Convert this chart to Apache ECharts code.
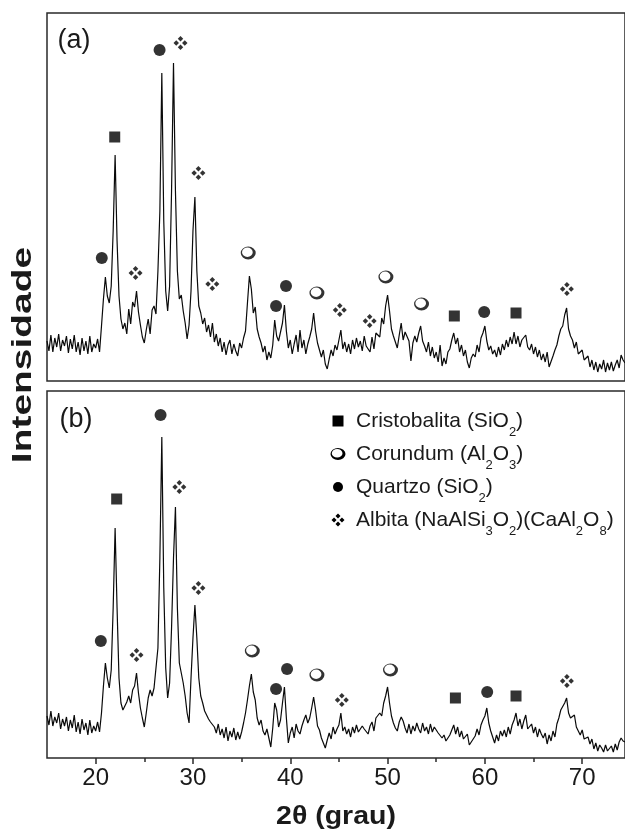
<!DOCTYPE html>
<html><head><meta charset="utf-8">
<script src="https://cdn.jsdelivr.net/npm/echarts@6/dist/echarts.min.js"></script>
<style>html,body{margin:0;padding:0;background:#fff}#c{width:625px;height:831px}</style>
</head><body><div id="c"></div>
<script>
// ---- data: 2θ sampling ----
const twoThetaStart = 15;
const twoThetaStep = 0.2;

// Panel (a) intensity (arbitrary units), 15.0 .. 74.4 every 0.2°
const intensityA = [
40,30,46,29,43, 34,47,30,41,35, 45,28,42,32,46, 29,39,26,43,30, 40,27,45,29,37,
33,42,29,55,82, 104,85,78,95,150, 226,140,85,62,52, 58,47,72,57,79, 74,90,69,56,44,
38,51,62,47,71, 75,67,110,170,308, 160,90,70,95,190, 318,190,110,82,86, 70,58,42,56,90,
150,184,110,75,68, 57,63,49,56,44, 58,39,47,35,43, 29,39,26,36,41, 27,37,30,25,38,
33,43,50,78,105, 92,68,74,52,44, 38,29,35,21,29, 23,36,61,45,40, 42,58,76,50,33,
41,27,37,46,29, 51,33,41,27,37, 44,52,68,50,38, 36,24,31,17,12, 22,31,25,36,31,
41,51,32,39,29, 37,27,41,32,43, 34,40,30,45,35, 37,29,44,32,48, 50,44,63,57,75,
86,70,52,45,39, 33,46,58,41,49, 48,40,20,38,45, 39,48,55,40,35, 29,39,25,34,23,
29,19,36,15,23, 17,29,32,41,48, 37,43,29,36,25, 31,19,13,23,27, 24,36,29,43,48,
55,40,31,35,27, 31,24,34,26,37, 31,41,34,44,37, 49,37,45,34,41, 41,46,34,31,37,
27,34,24,31,21, 27,19,29,14,13, 25,31,36,45,52, 55,66,73,52,45, 41,33,39,27,25,
31,21,19,25,14, 21,11,19,9,17, 12,21,9,18,11, 19,10,16,21,13, 26,21,18
];

// Panel (b) intensity (arbitrary units), 15.0 .. 74.4 every 0.2°
const intensityB = [
42,33,47,32,41, 35,45,29,39,32, 41,27,38,30,43, 26,36,24,39,28, 35,23,38,25,32,
27,36,26,45,72, 95,80,70,88,150, 230,150,80,55,48, 48,56,62,55,68, 72,85,65,50,40,
31,45,60,68,62, 70,72,110,200,321, 170,90,60,75,130, 200,251,150,95,85, 75,62,45,35,80,
120,153,120,80,62, 55,47,46,39,36, 37,31,25,34,23, 29,20,31,17,27, 21,30,18,26,19,
26,35,45,58,72, 84,66,58,40,33, 38,27,23,29,20, 11,30,55,48,31, 38,55,71,40,15,
25,31,20,34,27, 24,32,38,43,35, 40,50,61,48,32, 28,20,15,10,18, 25,19,31,24,29,
33,45,27,31,24, 29,21,31,25,33, 26,25,32,29,29, 24,32,36,27,40, 38,45,42,55,62,
71,55,42,35,30, 27,36,41,37,30, 25,34,24,32,27, 35,29,25,35,27, 31,24,34,26,31,
29,25,27,20,23, 17,16,23,28,33, 24,31,21,27,19, 18,24,13,11,19, 22,29,23,33,38,
42,50,35,27,25, 15,23,17,27,22, 28,21,31,24,33, 38,45,32,39,29, 37,43,29,27,34,
25,31,21,29,24, 20,25,14,23,17, 27,21,34,40,48, 48,55,60,45,40, 38,43,31,29,23,
28,19,17,21,14, 19,9,15,7,13, 10,6,13,7,5, 12,6,14,8,16, 20,17,16
];

// Phase markers [2θ, intensity]
const cristobalitaA = [[21.96,244],[56.86,65],[63.2,68]];
const quartzoA      = [[20.63,123],[26.57,331],[38.54,75],[39.56,95],[59.93,69]];
const corundumA     = [[35.68,128],[42.74,88],[49.83,104],[53.49,77]];
const albitaA       = [[24.1,108],[28.72,338],[30.56,208],[31.99,97],[45.09,71],[48.16,60],[68.43,92]];

const cristobalitaB = [[22.16,259],[56.97,60],[63.2,62]];
const quartzoB      = [[20.53,117],[26.67,343],[38.54,69],[39.67,89],[60.24,66]];
const corundumB     = [[36.1,107],[42.74,83],[50.3,88]];
const albitaB       = [[24.2,103],[28.6,271],[30.56,170],[45.3,58],[68.43,77]];

// Axis ticks
const xMajorTicks = [20,30,40,50,60,70];
const xMinorTicks = [25,35,45,55,65];

// Legend texts (rich text; s = subscript)
const legendTexts = [
  '{m|Cristobalita (SiO}{s|2}{m|)}',
  '{m|Corundum (Al}{s|2}{m|O}{s|3}{m|)}',
  '{m|Quartzo (SiO}{s|2}{m|)}',
  '{m|Albita (NaAlSi}{s|3}{m|O}{s|2}{m|)(CaAl}{s|2}{m|O}{s|8}{m|)}'
];
const panelLabels = ['(a)','(b)'];
const xTitle = '2θ (grau)';
const yTitle = 'Intensidade';

// ---- build ----
const FONT = "'Liberation Sans', Arial, Helvetica, sans-serif";
const toPairs = arr => arr.map((v,i) => [+(twoThetaStart + i*twoThetaStep).toFixed(2), v]);

const PATH_CORUNDUM = 'M7,0 A7,7 0 1,1 -7,0 A7,7 0 1,1 7,0 Z M4.2,-0.8 A5,5 0 1,0 -5.8,-0.8 A5,5 0 1,0 4.2,-0.8 Z';
const PATH_ALBITA = 'M0,-6.9 L2.7,-4.2 L0,-1.5 L-2.7,-4.2 Z M0,1.5 L2.7,4.2 L0,6.9 L-2.7,4.2 Z M-6.9,0 L-4.2,2.7 L-1.5,0 L-4.2,-2.7 Z M1.5,0 L4.2,2.7 L6.9,0 L4.2,-2.7 Z';
const SYM_CORUNDUM = 'path://' + PATH_CORUNDUM;
const SYM_ALBITA = 'path://' + PATH_ALBITA;

echarts.graphic.registerShape('corundumIcon', echarts.graphic.extendPath(PATH_CORUNDUM, {}));
echarts.graphic.registerShape('albitaIcon', echarts.graphic.extendPath(PATH_ALBITA, {}));

const XMAX = 74.4;
const gridW = (XMAX - 15) * 9.77;
const frameColor = '#2a2a2a';

function markSeries(idx, data, symbol, size) {
  return {type:'scatter', xAxisIndex: idx===0?0:1, yAxisIndex: idx, data: data,
    symbol: symbol, symbolSize: size, itemStyle:{color:'#000'}, z: 5, silent:true};
}

const series = [
  {type:'line', xAxisIndex:0, yAxisIndex:0, data: toPairs(intensityA), showSymbol:false, symbol:'none',
    lineStyle:{color:'#0a0a0a', width:1.2}, z:3},
  {type:'line', xAxisIndex:1, yAxisIndex:1, data: toPairs(intensityB), showSymbol:false, symbol:'none',
    lineStyle:{color:'#0a0a0a', width:1.2}, z:3},
  markSeries(0, cristobalitaA, 'rect', 11),
  markSeries(0, quartzoA, 'circle', 12),
  markSeries(0, corundumA, SYM_CORUNDUM, [15,13]),
  markSeries(0, albitaA, SYM_ALBITA, 14),
  markSeries(1, cristobalitaB, 'rect', 11),
  markSeries(1, quartzoB, 'circle', 12),
  markSeries(1, corundumB, SYM_CORUNDUM, [15,13]),
  markSeries(1, albitaB, SYM_ALBITA, 14)
];

const legendRowY = [421, 454, 487, 520];
const richStyle = {
  m:{fontSize:21, fontFamily:FONT, lineHeight:36, fill:'#1a1a1a'},
  s:{fontSize:13, fontFamily:FONT, lineHeight:14, verticalAlign:'bottom', fill:'#1a1a1a'}
};
const graphics = [
  {type:'rect', shape:{x:332.5, y:legendRowY[0]-5.5, width:11, height:11}, style:{fill:'#000'}},
  {type:'corundumIcon', x:338, y:legendRowY[1], scaleX:15/14, scaleY:12/14, shape:{}, style:{fill:'#000'}},
  {type:'circle', shape:{cx:338, cy:legendRowY[2], r:5}, style:{fill:'#000'}},
  {type:'albitaIcon', x:338, y:legendRowY[3], scaleX:13/13.8, scaleY:13/13.8, shape:{}, style:{fill:'#000'}}
];
legendTexts.forEach((t,i) => {
  graphics.push({type:'text', x:356, y:legendRowY[i], style:{text:t, rich:richStyle, align:'left', verticalAlign:'middle'}});
});
graphics.push({type:'text', x:74, y:41, style:{text:panelLabels[0], font:'27px '+FONT, fill:'#1a1a1a', align:'center', verticalAlign:'middle'}});
graphics.push({type:'text', x:76, y:420, style:{text:panelLabels[1], font:'27px '+FONT, fill:'#1a1a1a', align:'center', verticalAlign:'middle'}});
graphics.push({type:'text', x:336, y:817, scaleX:1.14, style:{text:xTitle, font:'bold 25px '+FONT, fill:'#1a1a1a', align:'center', verticalAlign:'middle'}});
graphics.push({type:'text', x:23, y:355, rotation:Math.PI/2, scaleX:1.39, style:{text:yTitle, font:'bold 28px '+FONT, fill:'#1a1a1a', align:'center', verticalAlign:'middle'}});

const option = {
  animation:false,
  backgroundColor:'#fff',
  grid:[
    {left:47, top:13, width:gridW, height:368, show:true, borderColor:frameColor, borderWidth:1.5, backgroundColor:'transparent'},
    {left:47, top:391, width:gridW, height:367, show:true, borderColor:frameColor, borderWidth:1.5, backgroundColor:'transparent'}
  ],
  xAxis:[
    {type:'value', gridIndex:0, min:15, max:XMAX, axisLine:{show:false}, axisTick:{show:false}, axisLabel:{show:false}, splitLine:{show:false}},
    {type:'value', gridIndex:1, min:15, max:XMAX, position:'bottom',
      axisLine:{show:false},
      axisTick:{show:true, customValues:xMajorTicks, length:6, lineStyle:{color:frameColor, width:1.5}},
      axisLabel:{show:true, customValues:xMajorTicks, fontSize:24, fontFamily:FONT, color:'#1a1a1a', margin:8},
      splitLine:{show:false}},
    {type:'value', gridIndex:1, min:15, max:XMAX, position:'bottom', offset:0,
      axisLine:{show:false},
      axisTick:{show:true, customValues:xMinorTicks, length:4, lineStyle:{color:frameColor, width:1.5}},
      axisLabel:{show:false}, splitLine:{show:false}}
  ],
  yAxis:[
    {type:'value', gridIndex:0, min:0, max:368, show:false, splitLine:{show:false}},
    {type:'value', gridIndex:1, min:0, max:367, show:false, splitLine:{show:false}}
  ],
  series: series,
  graphic: graphics
};
const chart = echarts.init(document.getElementById('c'), null, {renderer:'canvas'});
chart.setOption(option);
</script>
</body></html>
